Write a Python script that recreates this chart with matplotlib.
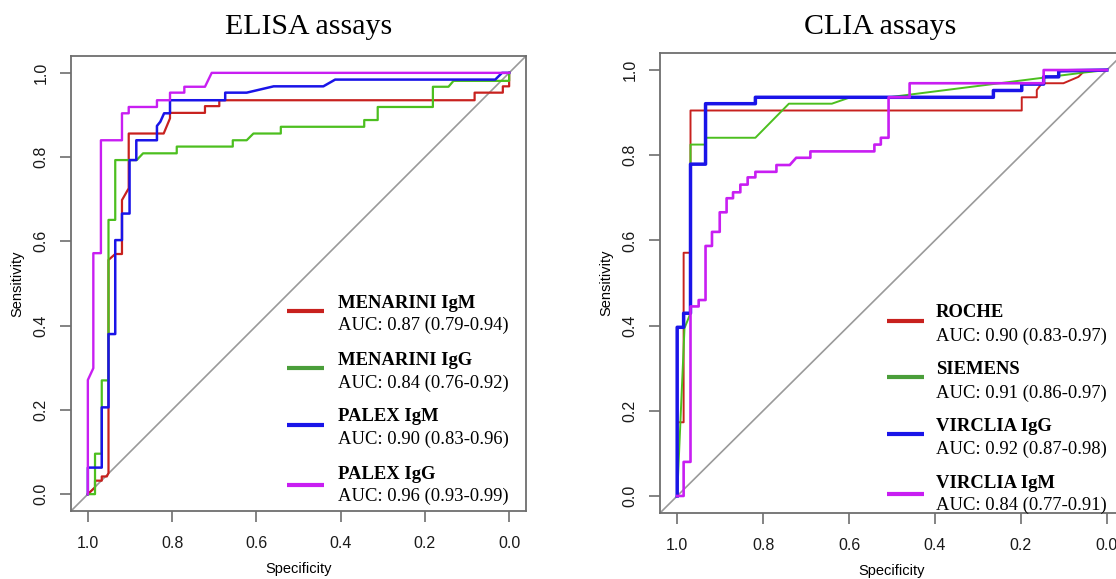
import matplotlib
matplotlib.use("Agg")
import matplotlib.pyplot as plt
import numpy as np

# ---------------- data ----------------
elisa_names = ["MENARINI IgM", "MENARINI IgG", "PALEX IgM", "PALEX IgG"]
elisa_auc = ["AUC: 0.87 (0.79-0.94)", "AUC: 0.84 (0.76-0.92)",
             "AUC: 0.90 (0.83-0.96)", "AUC: 0.96 (0.93-0.99)"]

menarini_igm_spec = [1.000, 0.983, 0.983, 0.967, 0.967, 0.955, 0.951, 0.951, 0.935, 0.919, 0.919, 0.903,
                     0.903, 0.820, 0.805, 0.805, 0.722, 0.722, 0.688, 0.688, 0.082, 0.082, 0.015, 0.015,
                     0.000, 0.000]
menarini_igm_sens = [0.000, 0.016, 0.032, 0.032, 0.042, 0.042, 0.050, 0.556, 0.570, 0.570, 0.698, 0.726,
                     0.856, 0.856, 0.892, 0.905, 0.905, 0.921, 0.921, 0.935, 0.935, 0.953, 0.953, 0.968,
                     0.968, 1.000]

menarini_igg_spec = [1.000, 0.983, 0.983, 0.967, 0.967, 0.951, 0.951, 0.935, 0.935, 0.884, 0.869, 0.789,
                     0.789, 0.656, 0.656, 0.623, 0.607, 0.542, 0.542, 0.344, 0.344, 0.312, 0.312, 0.181,
                     0.181, 0.144, 0.132, 0.000, 0.000]
menarini_igg_sens = [0.000, 0.000, 0.096, 0.096, 0.270, 0.270, 0.651, 0.651, 0.793, 0.793, 0.809, 0.809,
                     0.825, 0.825, 0.840, 0.840, 0.856, 0.856, 0.872, 0.872, 0.888, 0.888, 0.919, 0.919,
                     0.967, 0.967, 0.981, 0.981, 1.000]

palex_igm_spec = [1.000, 1.000, 0.967, 0.967, 0.951, 0.951, 0.935, 0.935, 0.919, 0.919, 0.901, 0.901,
                  0.885, 0.885, 0.836, 0.836, 0.828, 0.819, 0.805, 0.805, 0.674, 0.674, 0.623, 0.559,
                  0.441, 0.413, 0.033, 0.017, 0.000]
palex_igm_sens = [0.000, 0.063, 0.063, 0.206, 0.206, 0.380, 0.380, 0.603, 0.603, 0.666, 0.666, 0.793,
                  0.793, 0.840, 0.840, 0.874, 0.884, 0.904, 0.904, 0.935, 0.935, 0.953, 0.953, 0.968,
                  0.968, 0.984, 0.984, 1.000, 1.000]

palex_igg_spec = [1.000, 1.000, 0.987, 0.987, 0.969, 0.969, 0.919, 0.919, 0.903, 0.903, 0.836, 0.836,
                  0.805, 0.805, 0.771, 0.771, 0.722, 0.706, 0.000]
palex_igg_sens = [0.000, 0.271, 0.299, 0.572, 0.572, 0.840, 0.840, 0.904, 0.904, 0.919, 0.919, 0.935,
                  0.935, 0.953, 0.953, 0.967, 0.967, 1.000, 1.000]

clia_names = ["ROCHE", "SIEMENS", "VIRCLIA IgG", "VIRCLIA IgM"]
clia_auc = ["AUC: 0.90 (0.83-0.97)", "AUC: 0.91 (0.86-0.97)",
            "AUC: 0.92 (0.87-0.98)", "AUC: 0.84 (0.77-0.91)"]

roche_spec = [1.000, 1.000, 0.985, 0.985, 0.969, 0.969, 0.198, 0.198, 0.163, 0.163, 0.151, 0.101,
              0.066, 0.054, 0.000]
roche_sens = [0.000, 0.173, 0.173, 0.571, 0.571, 0.905, 0.905, 0.936, 0.936, 0.953, 0.969, 0.969,
              0.984, 0.996, 1.000]

siemens_spec = [1.000, 0.983, 0.969, 0.969, 0.934, 0.934, 0.818, 0.740, 0.640, 0.597, 0.508, 0.054, 0.000]
siemens_sens = [0.000, 0.394, 0.429, 0.825, 0.825, 0.841, 0.841, 0.921, 0.921, 0.936, 0.936, 0.994, 1.000]

virclia_igg_spec = [1.000, 1.000, 0.985, 0.985, 0.969, 0.969, 0.934, 0.934, 0.818, 0.818, 0.264, 0.264,
                    0.198, 0.198, 0.147, 0.147, 0.112, 0.112, 0.000]
virclia_igg_sens = [0.000, 0.396, 0.396, 0.429, 0.429, 0.779, 0.779, 0.921, 0.921, 0.936, 0.936, 0.952,
                    0.952, 0.967, 0.967, 0.984, 0.984, 0.998, 1.000]

virclia_igm_spec = [1.000, 0.985, 0.985, 0.969, 0.969, 0.950, 0.950, 0.934, 0.934, 0.919, 0.919, 0.901,
                    0.901, 0.885, 0.885, 0.870, 0.870, 0.853, 0.853, 0.836, 0.836, 0.818, 0.818, 0.769,
                    0.769, 0.738, 0.723, 0.690, 0.690, 0.541, 0.541, 0.526, 0.526, 0.508, 0.508, 0.459,
                    0.459, 0.147, 0.147, 0.000]
virclia_igm_sens = [0.000, 0.000, 0.080, 0.080, 0.445, 0.445, 0.460, 0.460, 0.587, 0.587, 0.620, 0.620,
                    0.666, 0.666, 0.699, 0.699, 0.713, 0.713, 0.731, 0.731, 0.748, 0.748, 0.761, 0.761,
                    0.777, 0.777, 0.794, 0.794, 0.809, 0.809, 0.825, 0.825, 0.841, 0.841, 0.936, 0.936,
                    0.969, 0.969, 1.000, 1.000]

tick_values = [1.0, 0.8, 0.6, 0.4, 0.2, 0.0]
tick_labels = ["1.0", "0.8", "0.6", "0.4", "0.2", "0.0"]

# ---------------- style ----------------
colors = ["#c8211e", "#4cbf1f", "#1a14e8", "#c81ef2"]
legend_colors = ["#c8211e", "#4a9e3a", "#1a14e8", "#c81ef2"]
serif = ["Liberation Serif", "DejaVu Serif"]
sans = ["Liberation Sans", "DejaVu Sans"]
frame_col = "#6e6e6e"

fig = plt.figure(figsize=(11.16, 5.79), dpi=100)

ax1 = fig.add_axes([71 / 1116, 1 - 511 / 579, 455 / 1116, 455 / 579])
ax2 = fig.add_axes([660 / 1116, 1 - 513 / 579, 464 / 1116, 460 / 579])


def style_axes(ax):
    ax.set_xlim(1.04, -0.04)
    ax.set_ylim(-0.04, 1.04)
    for s in ax.spines.values():
        s.set_color(frame_col)
        s.set_linewidth(1.3)
    ax.set_xticks(tick_values)
    ax.set_xticklabels(tick_labels, family=sans, fontsize=11.5, color="#1a1a1a")
    ax.set_yticks(tick_values)
    ax.set_yticklabels(tick_labels, family=sans, fontsize=11.5, rotation=90, va="center",
                       color="#1a1a1a")
    ax.tick_params(axis="both", length=8, width=1.2, color=frame_col)
    ax.tick_params(axis="x", pad=10)
    ax.tick_params(axis="y", pad=8)
    ax.set_xlabel("Specificity", family=sans, fontsize=10.5, labelpad=8)
    ax.set_ylabel("Sensitivity", family=sans, fontsize=10.5, labelpad=7)
    ax.axline((1.0, 0.0), (0.0, 1.0), color="#9a9a9a", lw=1.2, zorder=1)


style_axes(ax1)
style_axes(ax2)

elisa_curves = [(menarini_igm_spec, menarini_igm_sens), (menarini_igg_spec, menarini_igg_sens),
                (palex_igm_spec, palex_igm_sens), (palex_igg_spec, palex_igg_sens)]
clia_curves = [(roche_spec, roche_sens), (siemens_spec, siemens_sens),
               (virclia_igg_spec, virclia_igg_sens), (virclia_igm_spec, virclia_igm_sens)]

elisa_lw = [1.6, 1.6, 1.8, 1.7]
clia_lw = [1.4, 1.4, 2.5, 1.9]

for (sp, se), c, lw in zip(elisa_curves, colors, elisa_lw):
    ax1.plot(sp, se, color=c, lw=lw, zorder=3)
for (sp, se), c, lw in zip(clia_curves, colors, clia_lw):
    ax2.plot(sp, se, color=c, lw=lw, zorder=3)

# ---------------- legends (manual, R-style) ----------------
def draw_legend(ax, names, aucs, x_line, x_text, y_lines, y_titles, y_aucs):
    for i, (n, a) in enumerate(zip(names, aucs)):
        ax.plot(x_line, [y_lines[i]] * 2, color=legend_colors[i], lw=3.0,
                transform=ax.transAxes, solid_capstyle="butt", zorder=4)
        ax.text(x_text, y_titles[i], n, transform=ax.transAxes, family=serif,
                fontweight="bold", fontsize=13.4, va="center", ha="left")
        ax.text(x_text, y_aucs[i], a, transform=ax.transAxes, family=serif,
                fontsize=13.4, va="center", ha="left")


draw_legend(ax1, elisa_names, elisa_auc, [0.474, 0.557], 0.586,
            [0.440, 0.314, 0.189, 0.057], [0.457, 0.330, 0.207, 0.081],
            [0.407, 0.281, 0.158, 0.033])
draw_legend(ax2, clia_names, clia_auc, [0.489, 0.569], 0.595,
            [0.417, 0.296, 0.172, 0.041], [0.435, 0.311, 0.187, 0.065],
            [0.385, 0.261, 0.139, 0.017])

fig.text(309 / 1116, 1 - 27 / 579, "ELISA assays", family=serif, fontsize=21.5,
         ha="center", va="center")
fig.text(880 / 1116, 1 - 27 / 579, "CLIA assays", family=serif, fontsize=21.5,
         ha="center", va="center")

fig.savefig("out.png", dpi=100)
